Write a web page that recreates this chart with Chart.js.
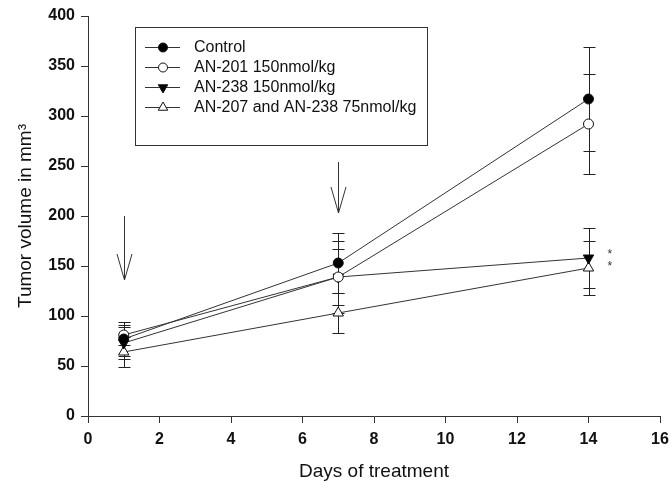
<!DOCTYPE html>
<html>
<head>
<meta charset="utf-8">
<script src="https://cdn.jsdelivr.net/npm/chart.js@4.4.1/dist/chart.umd.min.js"></script>
<style>
  html, body { margin: 0; padding: 0; background: #fff; }
  #wrap { width: 671px; height: 481px; }
</style>
</head>
<body>
<div id="wrap"><canvas id="tumorChart" width="671" height="481"></canvas></div>
<script>
// Tumor volume data
const days = [1, 7, 14];
const seriesNames = ['Control', 'AN-201 150nmol/kg', 'AN-238 150nmol/kg', 'AN-207 and AN-238 75nmol/kg'];
const control = [77, 153, 317];
const controlErr = [17, 30, 52];
const an201 = [81, 139, 292];
const an201Err = [10, 36, 50];
const an238 = [73, 139, 158];
const an238Err = [16, 28, 30];
const combo = [64, 103, 148];
const comboErr = [15, 20, 27];

const xTicks = [0, 2, 4, 6, 8, 10, 12, 14, 16];
const yTicks = [0, 50, 100, 150, 200, 250, 300, 350, 400];

// treatment arrows: day, start value, tip value
const arrowDays = [1, 7];
const arrowTop = [200, 254];
const arrowTip = [136, 203];

// significance marks
const starDay = [14.6, 14.6];
const starVal = [163, 151];

const FONT = '"Liberation Sans", Arial, sans-serif';

function toPoints(values) {
    return days.map((d, i) => ({ x: d, y: values[i] }));
}

function makeDataset(label, values, errors, style) {
    return {
        label: label,
        data: toPoints(values),
        errors: errors,
        borderColor: '#333',
        borderWidth: 1,
        pointStyle: style.shape,
        rotation: style.rotation || 0,
        pointRadius: style.radius,
        pointBackgroundColor: style.fill,
        pointBorderColor: '#111',
        pointBorderWidth: 1,
        fill: false,
        tension: 0
    };
}

// error bars, drawn under the markers
const errorBars = {
    id: 'errorBars',
    beforeDatasetsDraw(chart) {
        const { ctx, scales: { x, y } } = chart;
        ctx.save();
        ctx.strokeStyle = '#222';
        ctx.lineWidth = 1;
        chart.data.datasets.forEach(ds => {
            ds.data.forEach((p, i) => {
                const px = Math.round(x.getPixelForValue(p.x)) + 0.5;
                const hi = Math.round(y.getPixelForValue(p.y + ds.errors[i])) + 0.5;
                const lo = Math.round(y.getPixelForValue(p.y - ds.errors[i])) + 0.5;
                ctx.beginPath();
                ctx.moveTo(px, hi); ctx.lineTo(px, lo);
                ctx.moveTo(px - 6, hi); ctx.lineTo(px + 6, hi);
                ctx.moveTo(px - 6, lo); ctx.lineTo(px + 6, lo);
                ctx.stroke();
            });
        });
        ctx.restore();
    }
};

// arrows, asterisks and the boxed legend
const annotations = {
    id: 'annotations',
    afterDraw(chart) {
        const { ctx, scales: { x, y } } = chart;
        ctx.save();
        ctx.strokeStyle = '#333';
        ctx.lineWidth = 1;
        arrowDays.forEach((d, i) => {
            const px = Math.round(x.getPixelForValue(d)) + 0.5;
            const top = y.getPixelForValue(arrowTop[i]);
            const tip = y.getPixelForValue(arrowTip[i]);
            ctx.beginPath();
            ctx.moveTo(px, top); ctx.lineTo(px, tip);
            ctx.moveTo(px - 7.5, tip - 26); ctx.lineTo(px, tip); ctx.lineTo(px + 7.5, tip - 26);
            ctx.stroke();
        });

        ctx.fillStyle = '#333';
        ctx.font = '12px ' + FONT;
        ctx.textAlign = 'center';
        ctx.textBaseline = 'middle';
        starDay.forEach((d, i) => {
            ctx.fillText('*', x.getPixelForValue(d), y.getPixelForValue(starVal[i]) + 2);
        });

        // legend box
        ctx.strokeRect(135.5, 27.5, 292, 118);
        ctx.font = '16px ' + FONT;
        ctx.textAlign = 'left';
        ctx.fillStyle = '#111';
        chart.data.datasets.forEach((ds, i) => {
            const ly = 47 + i * 20;
            ctx.beginPath();
            ctx.moveTo(145, ly + 0.5); ctx.lineTo(180, ly + 0.5);
            ctx.stroke();
            ctx.fillStyle = ds.pointBackgroundColor;
            ctx.strokeStyle = ds.pointBorderColor;
            Chart.helpers.drawPoint(ctx, {
                pointStyle: ds.pointStyle,
                rotation: ds.rotation,
                radius: ds.pointRadius - 0.5,
                borderWidth: 1
            }, 163, ly + 0.5);
            ctx.strokeStyle = '#333';
            ctx.fillStyle = '#111';
            ctx.fillText(ds.label, 194, ly + 1);
        });
        ctx.restore();
    }
};

const ctx = document.getElementById('tumorChart').getContext('2d');
new Chart(ctx, {
    type: 'line',
    data: {
        datasets: [
            makeDataset(seriesNames[0], control, controlErr, { shape: 'circle', radius: 5, fill: '#000' }),
            makeDataset(seriesNames[1], an201, an201Err, { shape: 'circle', radius: 5, fill: '#fff' }),
            makeDataset(seriesNames[2], an238, an238Err, { shape: 'triangle', rotation: 180, radius: 6, fill: '#000' }),
            makeDataset(seriesNames[3], combo, comboErr, { shape: 'triangle', radius: 6, fill: '#fff' })
        ]
    },
    options: {
        responsive: false,
        animation: false,
        layout: { padding: { top: 16, right: 11, left: 0, bottom: 0 } },
        plugins: {
            legend: { display: false },
            tooltip: { enabled: false }
        },
        scales: {
            x: {
                type: 'linear',
                min: 0,
                max: 16,
                afterBuildTicks: axis => { axis.ticks = xTicks.map(v => ({ value: v })); },
                afterFit: axis => {
                    axis.height = 65;
                    axis.paddingLeft = 0;
                    axis.paddingRight = 0;
                },
                grid: { drawOnChartArea: false, drawTicks: true, tickLength: 7, tickColor: '#333' },
                border: { display: true, color: '#333', width: 1 },
                ticks: { color: '#111', padding: 7, font: { family: FONT, size: 16, weight: 'bold' } },
                title: {
                    display: true,
                    text: 'Days of treatment',
                    color: '#111',
                    padding: { top: 0, bottom: 0 },
                    font: { family: FONT, size: 19, lineHeight: 1 }
                }
            },
            y: {
                min: 0,
                max: 400,
                afterBuildTicks: axis => { axis.ticks = yTicks.map(v => ({ value: v })); },
                afterFit: axis => { axis.width = 88; },
                grid: { drawOnChartArea: false, drawTicks: true, tickLength: 7, tickColor: '#333' },
                border: { display: true, color: '#333', width: 1 },
                ticks: { color: '#111', padding: 6, font: { family: FONT, size: 16, weight: 'bold' } },
                title: {
                    display: true,
                    text: 'Tumor volume in mm³',
                    color: '#111',
                    padding: { top: 16, bottom: 0 },
                    font: { family: FONT, size: 19, lineHeight: 1 }
                }
            }
        }
    },
    plugins: [errorBars, annotations]
});
</script>
</body>
</html>
